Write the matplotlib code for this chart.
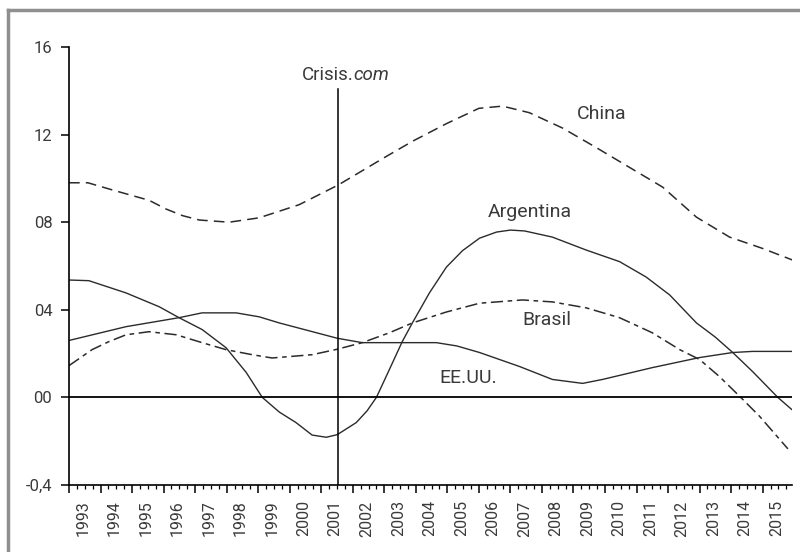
import numpy as np
import matplotlib
matplotlib.use('Agg')
import matplotlib.pyplot as plt
import matplotlib.transforms as mtransforms
from matplotlib.lines import Line2D
from matplotlib.ticker import MultipleLocator

plt.rcParams['font.family'] = ['Roboto', 'DejaVu Sans']

# values (x in years, y in axis units)
china_x = [1993.0, 1993.6, 1994.43, 1995.54, 1996.08, 1996.6, 1997.13, 1998.08, 1999.03, 2000.3,
           2001.54, 2002.3, 2003.0, 2003.9, 2004.97, 2006.0, 2006.75, 2007.6, 2008.65, 2009.73,
           2010.78, 2011.83, 2012.9, 2013.95, 2015.0, 2015.95]
china_y = [9.8, 9.8, 9.45, 9.0, 8.6, 8.3, 8.1, 8.0, 8.2, 8.8,
           9.7, 10.35, 10.95, 11.7, 12.5, 13.2, 13.3, 13.0, 12.3, 11.4,
           10.5, 9.6, 8.23, 7.32, 6.8, 6.27]

arg_x = [1993.0, 1993.63, 1994.81, 1995.86, 1996.49, 1997.22, 1997.98, 1998.62, 1998.87, 1999.13,
         1999.67, 2000.2, 2000.71, 2001.16, 2001.51, 2002.11, 2002.45, 2002.75, 2003.16, 2003.57,
         2003.89, 2004.43, 2004.97, 2005.48, 2006.02, 2006.56, 2007.0, 2007.45, 2008.33, 2009.4,
         2010.46, 2011.3, 2012.05, 2012.9, 2013.5, 2014.05, 2014.68, 2015.48, 2015.92]
arg_y = [5.36, 5.33, 4.77, 4.14, 3.64, 3.1, 2.27, 1.14, 0.58, 0.0,
         -0.67, -1.15, -1.72, -1.82, -1.7, -1.15, -0.62, 0.0, 1.27, 2.55,
         3.4, 4.77, 5.95, 6.7, 7.27, 7.55, 7.64, 7.6, 7.32, 6.73,
         6.2, 5.5, 4.68, 3.4, 2.75, 2.05, 1.18, 0.0, -0.55]

usa_x = [1993.0, 1994.81, 1996.49, 1997.22, 1998.3, 1999.03, 1999.67, 2001.51, 2002.3, 2004.65,
         2005.3, 2006.02, 2007.29, 2008.33, 2009.29, 2009.92, 2011.5, 2013.0, 2014.05, 2014.68,
         2015.92]
usa_y = [2.6, 3.23, 3.64, 3.86, 3.86, 3.68, 3.4, 2.7, 2.5, 2.5,
         2.35, 2.05, 1.41, 0.82, 0.64, 0.82, 1.36, 1.82, 2.05, 2.1,
         2.1]

bra_x = [1993.0, 1993.73, 1994.27, 1994.81, 1995.54, 1996.4, 1997.22, 1997.98, 1998.81, 1999.44,
         2000.71, 2001.51, 2002.3, 2003.16, 2003.89, 2004.97, 2006.02, 2007.38, 2008.33, 2009.4,
         2010.46, 2011.5, 2012.37, 2013.0, 2013.63, 2014.27, 2014.9, 2015.8]
bra_y = [1.45, 2.18, 2.55, 2.86, 3.0, 2.86, 2.5, 2.18, 1.95, 1.8,
         1.95, 2.2, 2.5, 2.95, 3.4, 3.9, 4.3, 4.45, 4.36, 4.09,
         3.64, 2.95, 2.18, 1.73, 0.95, 0.05, -0.86, -2.35]

years = list(range(1993, 2016))
y_ticks = [16, 12, 8, 4, 0, -4]
y_labels = ['16', '12', '08', '04', '00', '-0,4']
crisis_year = 2001.54

line_col = '#2b2b2b'
text_col = '#3a3a3a'

fig = plt.figure(figsize=(8, 5.52), dpi=100)
ax = fig.add_axes([69 / 800, 1 - 485 / 552, (792 - 69) / 800, (485 - 47) / 552])

ax.plot(china_x, china_y, color=line_col, lw=1.1, dashes=(7, 4))
ax.plot(arg_x, arg_y, color=line_col, lw=1.0)
ax.plot(usa_x, usa_y, color=line_col, lw=1.0)
ax.plot(bra_x, bra_y, color=line_col, lw=1.1, dashes=(8, 3, 3, 3))

ax.axhline(0, color='black', lw=1.3)
ax.plot([crisis_year, crisis_year], [-4, 14.1], color='black', lw=1.1)

ax.set_xlim(1993, 2015.93)
ax.set_ylim(-4, 16)

ax.spines['top'].set_visible(False)
ax.spines['right'].set_visible(False)
for s in ['left', 'bottom']:
    ax.spines[s].set_linewidth(1.2)
    ax.spines[s].set_color('black')

ax.set_yticks(y_ticks)
ax.set_yticklabels(y_labels)
ax.tick_params(axis='y', length=6, width=1.1, pad=6, labelsize=12, labelcolor=text_col)

ax.set_xticks(years)
ax.set_xticklabels([str(y) for y in years], rotation=90)
ax.xaxis.set_minor_locator(MultipleLocator(0.25))
ax.tick_params(axis='x', which='major', length=6, width=1.1, pad=5, labelsize=11.5, labelcolor=text_col)
ax.tick_params(axis='x', which='minor', length=3, width=0.9)
shift = mtransforms.ScaledTranslation(14 / 100, 0, fig.dpi_scale_trans)
for lab in ax.get_xticklabels():
    lab.set_transform(lab.get_transform() + shift)

# series labels
ax.text(2009.9, 12.95, 'China', ha='center', va='center', fontsize=14, color=text_col)
ax.text(2007.6, 8.45, 'Argentina', ha='center', va='center', fontsize=14, color=text_col)
ax.text(2008.17, 3.55, 'Brasil', ha='center', va='center', fontsize=14, color=text_col)
ax.text(2005.67, 0.9, 'EE.UU.', ha='center', va='center', fontsize=14, color=text_col)

t1 = ax.text(2000.37, 14.5, 'Crisis.', ha='left', va='baseline', fontsize=13.5, color=text_col)
ax.annotate('com', xy=(1, 0), xycoords=t1, va='bottom', ha='left', fontsize=13.5,
            style='italic', color=text_col)

# grey frame around the picture
fig.add_artist(Line2D([8 / 800, 1.0], [1 - 10 / 552, 1 - 10 / 552], transform=fig.transFigure,
                      color='#8f8f8f', lw=2.5))
fig.add_artist(Line2D([8 / 800, 8 / 800], [0, 1 - 10 / 552], transform=fig.transFigure,
                      color='#8f8f8f', lw=2.5))

fig.savefig('out.png', dpi=100)
